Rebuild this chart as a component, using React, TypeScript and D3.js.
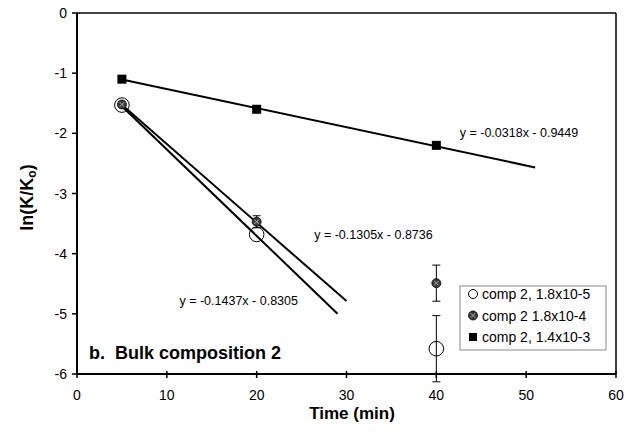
import React from "react";
import * as d3 from "d3";

const xTicks = [0, 10, 20, 30, 40, 50, 60];
const yTicks = [0, -1, -2, -3, -4, -5, -6];

const seriesNames = ["comp 2, 1.8x10-5", "comp 2 1.8x10-4", "comp 2, 1.4x10-3"];
const times = [5, 20, 40];
const openCircleVals = [-1.53, -3.68, -5.58];
const openCircleErr = [0, 0, 0.55];
const crossCircleVals = [-1.52, -3.47, -4.49];
const crossCircleErr = [0, 0.1, 0.3];
const squareVals = [-1.1, -1.6, -2.2];

const fitSlopes = [-0.1437, -0.1305, -0.0318];
const fitIntercepts = [-0.8305, -0.8736, -0.9449];
const fitRanges: [number, number][] = [[5, 29], [5, 30], [5, 51]];
const fitLabels = ["y = -0.1437x - 0.8305", "y = -0.1305x - 0.8736", "y = -0.0318x - 0.9449"];
const fitLabelPos: [number, number][] = [[18.0, -4.78], [33.0, -3.68], [49.2, -1.98]];

const W = 636, H = 432;
const x = d3.scaleLinear().domain([0, 60]).range([77, 616]);
const y = d3.scaleLinear().domain([0, -6]).range([13, 374]);
const font = "'Liberation Sans', Arial, sans-serif";

function CrossMarker({ cx, cy }: { cx: number; cy: number }) {
  const r = 4.5;
  const d = 2.3;
  return (
    <g>
      <circle cx={cx} cy={cy} r={r} fill="#3a3a3a" stroke="#000" strokeWidth={0.8} />
      <line x1={cx - d} y1={cy - d} x2={cx + d} y2={cy + d} stroke="#bbb" strokeWidth={0.9} />
      <line x1={cx - d} y1={cy + d} x2={cx + d} y2={cy - d} stroke="#bbb" strokeWidth={0.9} />
    </g>
  );
}

function ErrBar({ t, v, e }: { t: number; v: number; e: number }) {
  if (!e) return null;
  const cx = x(t);
  return (
    <g stroke="#000" strokeWidth={1}>
      <line x1={cx} x2={cx} y1={y(v + e)} y2={y(v - e)} />
      <line x1={cx - 4} x2={cx + 4} y1={y(v + e)} y2={y(v + e)} />
      <line x1={cx - 4} x2={cx + 4} y1={y(v - e)} y2={y(v - e)} />
    </g>
  );
}

export default function App() {
  return (
    <svg width={W} height={H} style={{ position: "absolute", left: 0, top: 0, background: "#fff" }} fontFamily={font}>
      <rect x={0} y={0} width={W} height={H} fill="#fff" />
      {/* frame */}
      <line x1={x(0)} x2={x(60)} y1={y(0)} y2={y(0)} stroke="#000" strokeWidth={1.5} />
      <line x1={x(60)} x2={x(60)} y1={y(0)} y2={y(-6)} stroke="#000" strokeWidth={1.5} />
      <line x1={x(0)} x2={x(60)} y1={y(-6)} y2={y(-6)} stroke="#000" strokeWidth={2} />
      <line x1={x(0)} x2={x(0)} y1={y(0)} y2={y(-6)} stroke="#000" strokeWidth={2} />
      {yTicks.map((t) => (
        <g key={"y" + t}>
          <line x1={x(0) - 5} x2={x(0)} y1={y(t)} y2={y(t)} stroke="#000" strokeWidth={1.5} />
          <text x={x(0) - 10} y={y(t)} dy="0.36em" textAnchor="end" fontSize={14}>{t}</text>
        </g>
      ))}
      {xTicks.map((t) => (
        <g key={"x" + t}>
          <line x1={x(t)} x2={x(t)} y1={y(-6) - 3} y2={y(-6) + 4} stroke="#000" strokeWidth={1.5} />
          <text x={x(t)} y={400} textAnchor="middle" fontSize={14}>{t}</text>
        </g>
      ))}
      <text x={352} y={419} textAnchor="middle" fontSize={17} fontWeight="bold">Time (min)</text>
      <text transform={`translate(33,${(y(0) + y(-6)) / 2 + 4}) rotate(-90)`} textAnchor="middle" fontSize={18} fontWeight="bold">
        ln(K/K<tspan fontSize={12} dy={3}>o</tspan><tspan dy={-3}>)</tspan>
      </text>

      {/* fit lines */}
      {fitSlopes.map((m, i) => {
        const [a, b] = fitRanges[i];
        return (
          <line key={"f" + i} x1={x(a)} y1={y(m * a + fitIntercepts[i])} x2={x(b)} y2={y(m * b + fitIntercepts[i])} stroke="#000" strokeWidth={2} />
        );
      })}
      {fitLabels.map((s, i) => (
        <text key={"l" + i} x={x(fitLabelPos[i][0])} y={y(fitLabelPos[i][1])} dy="0.35em" textAnchor="middle" fontSize={12.5}>{s}</text>
      ))}

      {/* error bars */}
      {times.map((t, i) => <ErrBar key={"e1" + i} t={t} v={openCircleVals[i]} e={openCircleErr[i]} />)}
      {times.map((t, i) => <ErrBar key={"e2" + i} t={t} v={crossCircleVals[i]} e={crossCircleErr[i]} />)}

      {/* markers */}
      {times.map((t, i) => (
        <circle key={"c" + i} cx={x(t)} cy={y(openCircleVals[i])} r={7.3} fill="none" stroke="#000" strokeWidth={1} />
      ))}
      {times.map((t, i) => <CrossMarker key={"x" + i} cx={x(t)} cy={y(crossCircleVals[i])} />)}
      {times.map((t, i) => (
        <rect key={"s" + i} x={x(t) - 4.5} y={y(squareVals[i]) - 4.5} width={9} height={9} fill="#000" />
      ))}

      <text x={89} y={353} dy="0.35em" fontSize={18} fontWeight="bold">{"b.\u00a0\u00a0Bulk composition 2"}</text>

      {/* legend */}
      <rect x={460} y={286} width={146} height={64} fill="#fff" stroke="#888" strokeWidth={1} />
      <circle cx={473} cy={294} r={4.5} fill="#fff" stroke="#000" strokeWidth={1} />
      <CrossMarker cx={473} cy={315.5} />
      <rect x={469} y={333} width={8} height={8} fill="#000" />
      {seriesNames.map((s, i) => (
        <text key={"n" + i} x={482} y={294 + i * 21.5} dy="0.36em" fontSize={14}>{s}</text>
      ))}
    </svg>
  );
}
